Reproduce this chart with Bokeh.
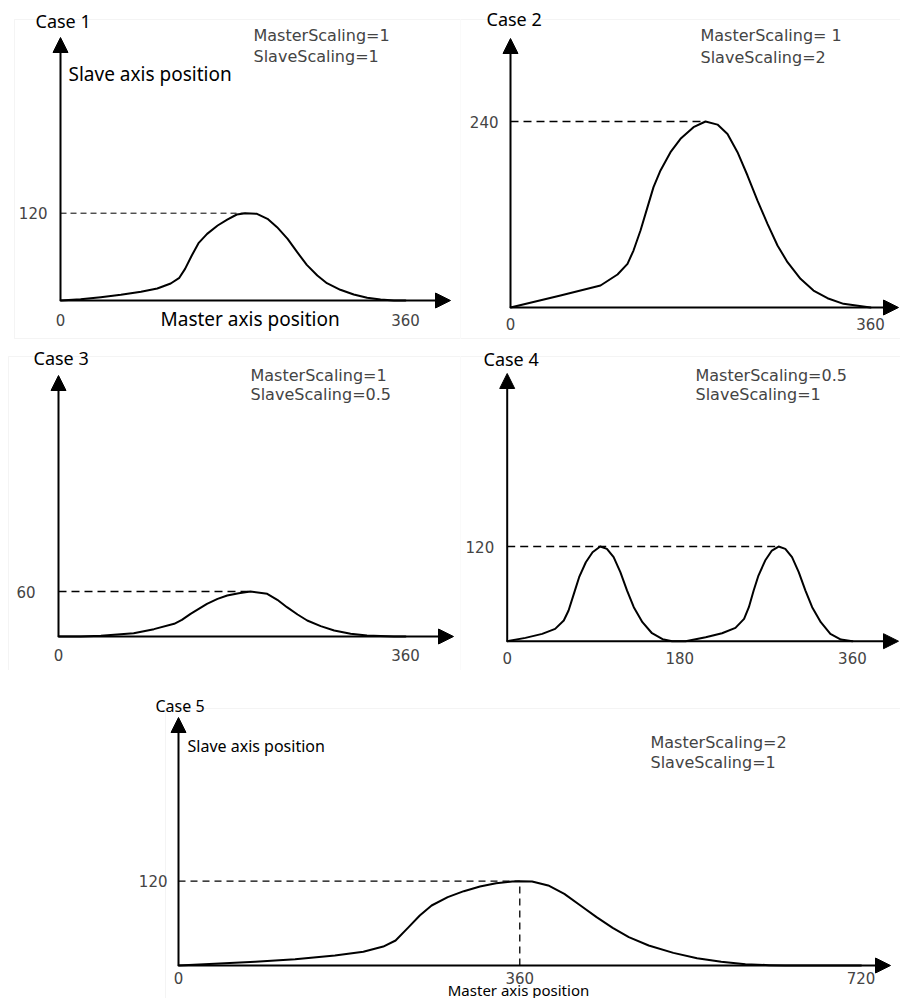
from bokeh.plotting import figure
from bokeh.layouts import column, row
from bokeh.models import Range1d, FixedTicker, Arrow, NormalHead, Label, BoxAnnotation
from bokeh.embed import file_html
from bokeh.resources import INLINE

# ---------------- data ----------------
case1_x = [0, 21, 42, 63, 84, 101, 115, 124, 130, 137, 144, 153, 164, 174, 184, 193, 205, 216, 226, 237,
           247, 257, 268, 278, 292, 306, 320, 334, 348, 360]
case1_y = [0, 1.8, 4.6, 7.8, 11.9, 16.5, 23.4, 31.2, 43.5, 61.9, 78.8, 91.6, 103.1, 111.3, 118.2, 120, 119.1,
           112.3, 100.8, 84.8, 66.4, 49, 34.4, 23.8, 14.7, 8.2, 3.7, 1.4, 0, 0]

case2_x = [0, 50, 90, 107, 117, 123, 130, 137, 143, 150, 160, 170, 183, 195, 207, 217, 227, 237, 247, 257,
           267, 277, 290, 303, 317, 333, 360]
case2_y = [0, 15.5, 28.4, 42.6, 56.3, 73.5, 99.4, 129.5, 155.3, 176.8, 200.4, 217.6, 232.7, 240, 236, 224,
           200.4, 170.3, 138, 108, 80, 58.5, 37, 21.9, 12, 4.7, 0]

case3_x = [0, 23, 44, 78, 99, 120, 128, 137, 145.5, 154, 165, 175, 187, 199, 216.5, 227, 237, 248, 258, 272,
           286, 303, 320, 348, 360]
case3_y = [0, 0, 0.9, 4.4, 9.8, 16.9, 22.2, 30.2, 36.9, 43.6, 50.2, 54.7, 57.8, 60, 56.9, 48.9, 39.1, 29.3,
           21.3, 13.8, 8, 3.6, 1.3, 0, 0]

case4_x = [0, 19, 36.5, 50, 59, 64, 69.5, 75, 82, 89, 97, 104, 111, 118, 125, 132, 141, 151, 162, 172,
           186, 207, 224, 238, 247, 252, 257, 262, 269, 276, 283, 290, 297, 304, 311, 318, 327, 337, 348, 360]
case4_y = [0, 4.2, 9.3, 15.6, 26.2, 38.9, 60, 81.1, 100.1, 112.8, 120, 117, 106.5, 87.5, 64.2, 43.1, 24.1,
           10.1, 2.5, 0, 0, 5.1, 10.1, 16.9, 28.3, 43.1, 64.2, 83.2, 102.2, 114.9, 120, 117, 106.5, 87.5,
           64.2, 43.1, 24.1, 9.3, 2.1, 0]

case5_x = [0, 38, 81, 123, 165, 195, 216, 229, 242, 254.5, 267, 284, 301, 318, 335, 352, 360, 373, 390, 407,
           424, 441, 458, 475, 496, 522, 547, 572.5, 598, 623, 640, 720]
case5_y = [0, 2.4, 5.2, 9, 14.2, 19.5, 27, 35.6, 53.6, 71.2, 85.4, 97.3, 105.8, 112.5, 117.2, 119.6, 120,
           119.6, 113.9, 102, 85.4, 68.8, 53.6, 40.3, 28.5, 18, 10.4, 5.2, 1.9, 0.5, 0, 0]

case_titles = ["Case 1", "Case 2", "Case 3", "Case 4", "Case 5"]
master_texts = ["MasterScaling=1", "MasterScaling= 1", "MasterScaling=1", "MasterScaling=0.5", "MasterScaling=2"]
slave_texts = ["SlaveScaling=1", "SlaveScaling=2", "SlaveScaling=0.5", "SlaveScaling=1", "SlaveScaling=1"]
x_ticks = [[0, 360], [0, 360], [0, 360], [0, 180, 360], [0, 360, 720]]
y_ticks = [[120], [240], [60], [120], [120]]

TITLE_FONT = "Noto Sans"
SCALE_FONT = "DejaVu Sans"
TICK_FONT = "DejaVu Sans"


def panel(canvas, size, box, origin, scale, xs, ys, xt, yt, x_stand, y_stand,
          tips, title_pos, title_size, scale_pos, scale_size, dash):
    cx, cy = canvas
    w, h = size
    bl, bt, br, bb = box
    ox, oy = origin
    sx, sy = scale

    def X(px):
        return (px - ox) / sx

    def Y(py):
        return (oy - py) / sy

    p = figure(width=w, height=h,
               x_range=Range1d(X(cx), X(cx + w)), y_range=Range1d(Y(cy + h), Y(cy)),
               output_backend="svg", toolbar_location=None,
               min_border=0, min_border_left=0, min_border_right=0,
               min_border_top=0, min_border_bottom=0)
    p.grid.visible = False
    p.outline_line_color = None
    p.background_fill_color = "white"
    p.border_fill_color = "white"

    # light panel frame
    p.add_layout(BoxAnnotation(left=X(bl), right=X(br), top=Y(bt), bottom=Y(bb),
                               fill_alpha=0, line_color="#d9d9d9", line_width=1, level="underlay"))

    p.xaxis.fixed_location = 0
    p.yaxis.fixed_location = 0
    p.xaxis.ticker = FixedTicker(ticks=xt)
    p.yaxis.ticker = FixedTicker(ticks=yt)
    p.axis.axis_line_color = None
    p.axis.major_tick_line_color = None
    p.axis.minor_tick_line_color = None
    p.axis.major_tick_out = 0
    p.axis.major_tick_in = 0
    p.axis.minor_tick_out = 0
    p.axis.major_label_text_font = TICK_FONT
    p.axis.major_label_text_font_size = "15px"
    p.axis.major_label_text_color = "#444444"
    p.xaxis.major_label_standoff = x_stand
    p.yaxis.major_label_standoff = y_stand

    # axis arrows
    xtip, ytip = tips
    p.add_layout(Arrow(end=NormalHead(size=15, fill_color="black", line_color="black"),
                       x_start=0, y_start=0, x_end=X(xtip), y_end=0,
                       line_width=2, line_color="black"))
    p.add_layout(Arrow(end=NormalHead(size=15, fill_color="black", line_color="black"),
                       x_start=0, y_start=0, x_end=0, y_end=Y(ytip),
                       line_width=2, line_color="black"))

    # dashed reference line to the (last) peak
    ymax = max(ys)
    peak_x = xs[len(ys) - 1 - ys[::-1].index(ymax)]
    p.line([0, peak_x], [ymax, ymax], line_color="black", line_width=dash[0], line_dash=dash[1])

    # curve
    p.line(xs, ys, line_color="black", line_width=2, line_join="round", line_cap="round")

    # texts
    tx, ty, ttext = title_pos
    p.add_layout(Label(x=X(tx), y=Y(ty), text=ttext, text_font=TITLE_FONT,
                       text_font_size=title_size, text_align="left",
                       text_baseline="middle", text_color="black"))
    (mx, my1, my2), mt, st = scale_pos
    p.add_layout(Label(x=X(mx), y=Y(my1), text=mt, text_font=SCALE_FONT,
                       text_font_size=scale_size, text_align="left",
                       text_baseline="middle", text_color="#444444"))
    p.add_layout(Label(x=X(mx), y=Y(my2), text=st, text_font=SCALE_FONT,
                       text_font_size=scale_size, text_align="left",
                       text_baseline="middle", text_color="#444444"))
    return p, X, Y, peak_x, ymax


# Case 1
p1, X1, Y1, _, _ = panel((0, 0), (460, 340), (14, 19, 460, 338), (60, 300), (0.9583, 0.7275),
                         case1_x, case1_y, x_ticks[0], y_ticks[0], 13, 13,
                         (450, 37), (35, 20, case_titles[0]), "18px",
                         ((253, 35, 56), master_texts[0], slave_texts[0]), "16px", (1, "6 4"))
p1.add_layout(Label(x=X1(68), y=Y1(73), text="Slave axis position", text_font=TITLE_FONT,
                    text_font_size="19px", text_align="left", text_baseline="middle",
                    text_color="black"))
p1.add_layout(Label(x=X1(160), y=Y1(318), text="Master axis position", text_font=TITLE_FONT,
                    text_font_size="19px", text_align="left", text_baseline="middle",
                    text_color="black"))

# Case 2
p2, X2, Y2, _, _ = panel((460, 0), (440, 340), (460, 19, 910, 338), (510, 307), (1.0, 0.775),
                         case2_x, case2_y, x_ticks[1], y_ticks[1], 10, 12,
                         (898, 38), (486, 18, case_titles[1]), "18px",
                         ((700, 35, 57), master_texts[1], slave_texts[1]), "16px", (1.3, "8 5"))

# Case 3
p3, X3, Y3, _, _ = panel((0, 340), (460, 330), (8, 356, 460, 680), (58, 636), (0.964, 0.75),
                         case3_x, case3_y, x_ticks[2], y_ticks[2], 12, 23,
                         (453, 375), (33, 357, case_titles[2]), "18px",
                         ((250, 375, 394), master_texts[2], slave_texts[2]), "16px", (1.5, "8 5"))

# Case 4
p4, X4, Y4, _, _ = panel((460, 340), (440, 330), (460, 356, 910, 680), (506.7, 640.7), (0.959, 0.789),
                         case4_x, case4_y, x_ticks[3], y_ticks[3], 11, 13,
                         (898, 373), (483, 358, case_titles[3]), "18px",
                         ((695, 375, 394), master_texts[3], slave_texts[3]), "16px", (1.3, "8 5"))

# Case 5
p5, X5, Y5, px5, py5 = panel((0, 670), (900, 328), (165, 708, 910, 1010), (178, 965), (0.948, 0.7025),
                             case5_x, case5_y, x_ticks[4], y_ticks[4], 6, 11,
                             (890, 717), (155, 705, case_titles[4]), "16px",
                             ((650, 742, 762), master_texts[4], slave_texts[4]), "16px", (1.3, "7 5"))
p5.line([px5, px5], [0, py5], line_color="black", line_width=1.3, line_dash="7 5")
p5.add_layout(Label(x=X5(187), y=Y5(745), text="Slave axis position", text_font=TITLE_FONT,
                    text_font_size="16px", text_align="left", text_baseline="middle",
                    text_color="black"))
p5.add_layout(Label(x=X5(518), y=Y5(989), text="Master axis position", text_font=TITLE_FONT,
                    text_font_size="15px", text_align="center", text_baseline="middle",
                    text_color="black"))

layout = column(row(p1, p2), row(p3, p4), p5)

with open("out.html", "w") as f:
    f.write(file_html(layout, INLINE))
